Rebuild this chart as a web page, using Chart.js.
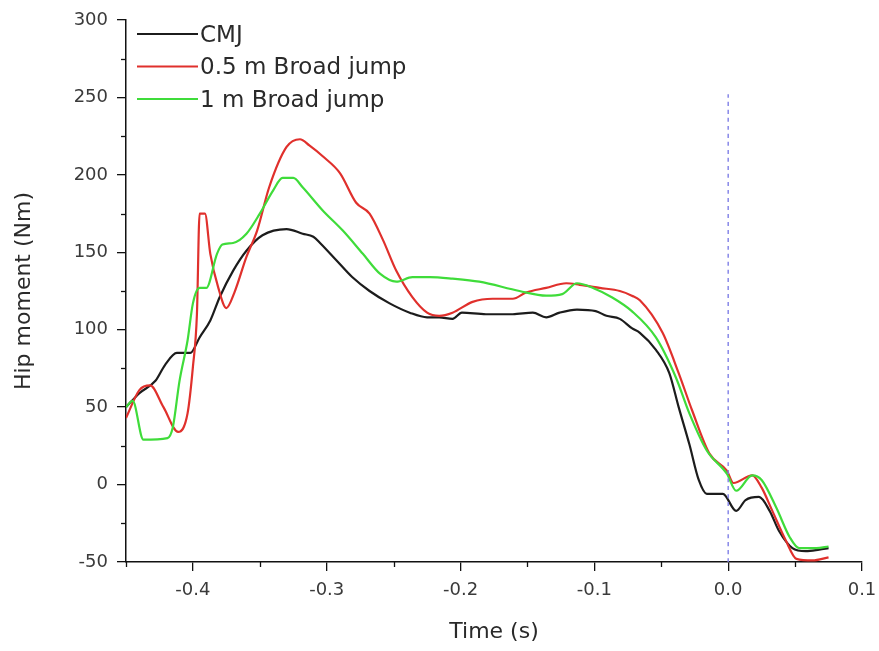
<!DOCTYPE html>
<html>
<head>
<meta charset="utf-8">
<script src="https://cdn.jsdelivr.net/npm/chart.js@4.4.1/dist/chart.umd.min.js"></script>
<style>
  html, body { margin: 0; padding: 0; background: #ffffff; }
  #wrap { width: 879px; height: 651px; }
</style>
</head>
<body>
<div id="wrap"><canvas id="c" width="879" height="651"></canvas></div>
<script>
// ---- Data (time in s, hip moment in Nm) ----
const seriesLabels = ['CMJ', '0.5 m Broad jump', '1 m Broad jump'];

const cmjT = [-0.450,-0.440,-0.428,-0.421,-0.412,-0.402,-0.395,-0.387,-0.380,-0.370,-0.360,-0.348,-0.330,-0.318,-0.310,-0.305,-0.293,-0.281,-0.268,-0.253,-0.238,-0.225,-0.216,-0.206,-0.199,-0.181,-0.161,-0.146,-0.136,-0.126,-0.113,-0.099,-0.091,-0.081,-0.072,-0.066,-0.054,-0.044,-0.037,-0.029,-0.022,-0.016,-0.004,0.006,0.013,0.023,0.031,0.038,0.048,0.058,0.068,0.075];
const cmjV = [50,59,67,77,85,85,95,106,121,138,151,161,165,162,160,156,145,134,125,117,111,108,108,107,111,110,110,111,108,111,113,112,109,107,101,98,87,72,50,26,3,-6,-6,-17,-10,-8,-17,-30,-41,-43,-42,-41];

const bj05T = [-0.450,-0.440,-0.432,-0.422,-0.411,-0.404,-0.400,-0.397,-0.395,-0.391,-0.387,-0.381,-0.375,-0.369,-0.360,-0.352,-0.343,-0.330,-0.320,-0.313,-0.303,-0.290,-0.278,-0.268,-0.258,-0.248,-0.236,-0.225,-0.216,-0.206,-0.191,-0.176,-0.161,-0.151,-0.136,-0.121,-0.111,-0.096,-0.081,-0.072,-0.066,-0.049,-0.037,-0.027,-0.014,-0.001,0.004,0.018,0.025,0.033,0.043,0.051,0.063,0.075];
const bj05V = [43,61,64,50,34,46,76,110,175,175,149,127,114,124,147,164,192,218,223,219,212,201,182,175,158,138,121,111,109,111,118,120,120,124,127,130,129,127,125,122,119,98,72,48,20,9,1,6,-2,-17,-36,-48,-49,-47];

const bj1T = [-0.450,-0.445,-0.437,-0.419,-0.415,-0.410,-0.404,-0.400,-0.395,-0.390,-0.382,-0.378,-0.370,-0.360,-0.350,-0.340,-0.333,-0.325,-0.318,-0.303,-0.288,-0.273,-0.260,-0.248,-0.236,-0.223,-0.206,-0.186,-0.156,-0.136,-0.124,-0.113,-0.101,-0.087,-0.072,-0.054,-0.039,-0.029,-0.016,-0.001,0.006,0.018,0.025,0.036,0.046,0.053,0.066,0.075];
const bj1V = [50,54,29,30,37,67,93,117,127,127,149,155,156,162,175,190,198,198,192,177,164,149,136,131,134,134,133,131,125,122,123,130,127,121,112,95,69,46,22,7,-4,6,3,-15,-34,-41,-41,-40];

const markerT = [0, 0];
const markerV = [-50, 252];

const xTickMin = -0.45, xTickMax = 0.1, xStep = 0.05;
const yTickMin = -50, yTickMax = 300, yStep = 25;

const toPts = (t, v) => t.map((x, i) => ({ x: x, y: v[i] }));

const FONT = 'DejaVu Sans';
const MAJOR = 9, MINOR = 5;

const minorTicks = {
  id: 'minorTicks',
  afterDraw(chart) {
    const ctx = chart.ctx;
    ctx.save();
    ctx.strokeStyle = '#111';
    ctx.lineWidth = 1.3;
    const xs = chart.scales.x, ys = chart.scales.y;
    xs.ticks.forEach(t => {
      if (t.label === '') {
        const px = Math.round(xs.getPixelForValue(t.value)) + 0.5;
        ctx.beginPath(); ctx.moveTo(px, xs.top); ctx.lineTo(px, xs.top + MINOR); ctx.stroke();
      }
    });
    ys.ticks.forEach(t => {
      if (t.label === '') {
        const py = Math.round(ys.getPixelForValue(t.value)) + 0.5;
        ctx.beginPath(); ctx.moveTo(ys.right, py); ctx.lineTo(ys.right - MINOR, py); ctx.stroke();
      }
    });
    ctx.restore();
  }
};

const insideLegend = {
  id: 'insideLegend',
  afterDraw(chart) {
    const ctx = chart.ctx;
    const a = chart.chartArea;
    ctx.save();
    ctx.font = '23px "' + FONT + '"';
    ctx.textBaseline = 'middle';
    ctx.textAlign = 'left';
    chart.data.datasets.forEach((ds, i) => {
      if (!ds.inLegend) return;
      const y = a.top + 14 + i * 32.5;
      ctx.strokeStyle = ds.borderColor;
      ctx.lineWidth = 2.2;
      ctx.beginPath(); ctx.moveTo(a.left + 11, y); ctx.lineTo(a.left + 72, y); ctx.stroke();
      ctx.fillStyle = '#2a2a2a';
      ctx.fillText(ds.label, a.left + 74, y + 2);
    });
    ctx.restore();
  }
};

const tickColor = c => (c.tick && c.tick.label === '') ? 'rgba(0,0,0,0)' : '#111';

new Chart(document.getElementById('c'), {
  type: 'scatter',
  data: {
    datasets: [
      { label: seriesLabels[0], data: toPts(cmjT, cmjV), borderColor: '#1c1c1c', inLegend: true },
      { label: seriesLabels[1], data: toPts(bj05T, bj05V), borderColor: '#e0302c', inLegend: true },
      { label: seriesLabels[2], data: toPts(bj1T, bj1V), borderColor: '#3fdc3a', inLegend: true },
      { label: 't0', data: toPts(markerT, markerV), borderColor: '#7f7fe6', borderWidth: 1.4, borderDash: [4, 4], inLegend: false }
    ].map((d, i) => Object.assign({
      showLine: true,
      pointRadius: 0,
      pointHoverRadius: 0,
      borderWidth: 2.2,
      cubicInterpolationMode: 'monotone',
      fill: false,
      order: 3 - i
    }, d))
  },
  options: {
    responsive: false,
    animation: false,
    events: [],
    layout: { padding: { top: 20, right: 17, left: 0, bottom: 0 } },
    plugins: {
      legend: { display: false },
      tooltip: { enabled: false }
    },
    scales: {
      x: {
        type: 'linear',
        min: xTickMin, max: xTickMax,
        afterFit(s) { s.height = 89; s.paddingRight = 0; s.paddingLeft = 0; },
        border: { display: true, color: '#111', width: 1.5 },
        grid: { display: true, drawOnChartArea: false, drawTicks: true, tickLength: MAJOR, color: tickColor, lineWidth: 1.3 },
        ticks: {
          stepSize: xStep, autoSkip: false, maxRotation: 0, padding: 9,
          color: '#3a3a3a', font: { family: FONT, size: 18 },
          callback: v => {
            const k = Math.round(v * 100);
            return (k % 10 === 0) ? (k / 100).toFixed(1) : '';
          }
        },
        title: { display: true, text: 'Time (s)', color: '#2a2a2a', font: { family: FONT, size: 22 }, padding: { top: 0, bottom: 6 } }
      },
      y: {
        type: 'linear',
        min: yTickMin, max: yTickMax,
        afterFit(s) { s.width = 126; s.paddingTop = 0; s.paddingBottom = 0; },
        border: { display: true, color: '#111', width: 1.5 },
        grid: { display: true, drawOnChartArea: false, drawTicks: true, tickLength: MAJOR, color: tickColor, lineWidth: 1.3 },
        ticks: {
          stepSize: yStep, autoSkip: false, padding: 9,
          color: '#3a3a3a', font: { family: FONT, size: 18 },
          callback: v => (Math.round(v) % 50 === 0 ? String(Math.round(v)) : '')
        },
        title: { display: true, text: 'Hip moment (Nm)', color: '#2a2a2a', font: { family: FONT, size: 22 }, padding: { top: 11, bottom: 0 } }
      }
    }
  },
  plugins: [minorTicks, insideLegend]
});
</script>
</body>
</html>
